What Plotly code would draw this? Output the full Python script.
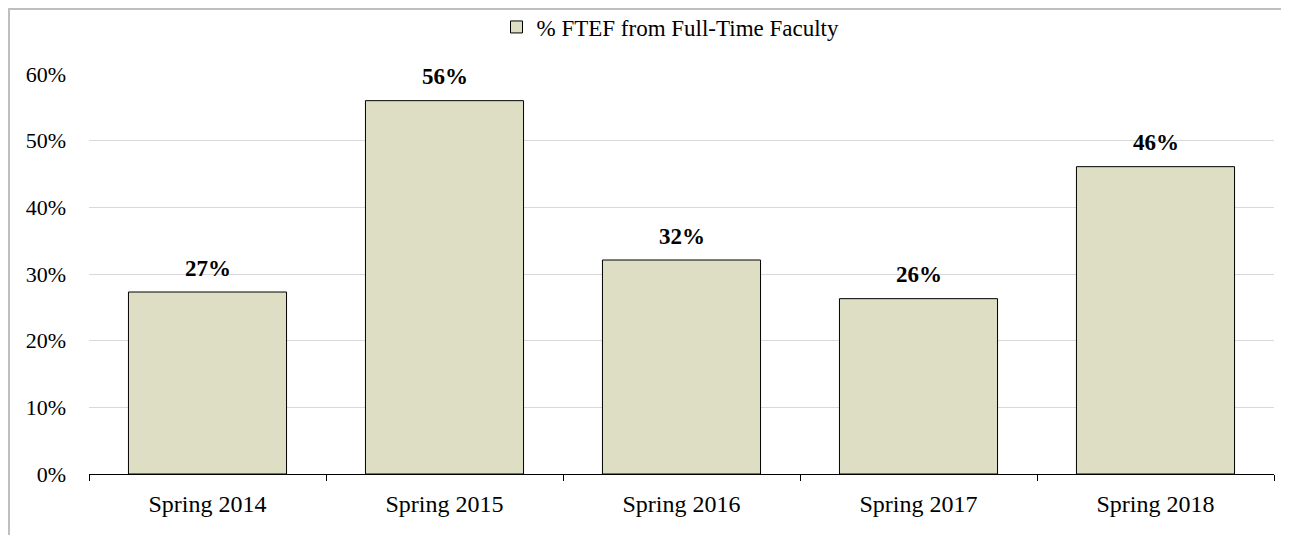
import plotly.graph_objects as go

categories = ["Spring 2014", "Spring 2015", "Spring 2016", "Spring 2017", "Spring 2018"]
values = [0.273, 0.560, 0.321, 0.263, 0.461]
series_name = "% FTEF from Full-Time Faculty"
y_ticks = [0, 0.1, 0.2, 0.3, 0.4, 0.5, 0.6]
y_tick_labels = ["0%", "10%", "20%", "30%", "40%", "50%", "60%"]

FONT = "Liberation Serif, Times New Roman, serif"

W, H = 1281, 527
ML, MR, MT, MB = 81, 15, 66, 61
PW, PH = W - ML - MR, H - MT - MB

fig = go.Figure()
fig.add_trace(go.Bar(
    x=categories, y=values, name=series_name,
    marker=dict(color="#DEDEC4", line=dict(color="black", width=1)),
    showlegend=True,
))

for c, v in zip(categories, values):
    fig.add_annotation(
        x=c, y=v, text="<b>%d%%</b>" % round(v * 100),
        showarrow=False, yanchor="middle", yshift=24,
        font=dict(family=FONT, size=23, color="black"),
    )

# chart border
fig.add_shape(type="rect", xref="paper", yref="paper",
              x0=(1 - ML) / PW, x1=(W - 2 - ML) / PW,
              y0=-0.3, y1=(PH + MT - 1) / PH,
              line=dict(color="#BFBFBF", width=2), fillcolor="rgba(0,0,0,0)", layer="below")

fig.update_layout(
    width=W, height=H,
    margin=dict(l=ML, r=MR, t=MT, b=MB, pad=0),
    paper_bgcolor="white", plot_bgcolor="white",
    bargap=0.333,
    font=dict(family=FONT, size=22, color="black"),
    legend=dict(orientation="h", x=0.5 - 11 / PW, xanchor="center", xref="paper",
                y=1 - 19 / H, yanchor="middle", yref="container",
                font=dict(family=FONT, size=23, color="black"),
                bgcolor="rgba(0,0,0,0)"),
    xaxis=dict(showline=True, linecolor="black", linewidth=1,
               ticks="outside", tickson="boundaries", ticklen=6, tickcolor="black",
               showgrid=False, ticklabelstandoff=8,
               tickfont=dict(family=FONT, size=24, color="black")),
    yaxis=dict(range=[0, 0.6], tickvals=y_ticks, ticktext=y_tick_labels,
               showgrid=True, gridcolor="#D9D9D9", gridwidth=1,
               showline=False, ticks="", zeroline=False, ticklabelstandoff=22,
               tickfont=dict(family=FONT, size=22, color="black")),
)

fig.write_html("out.html")
